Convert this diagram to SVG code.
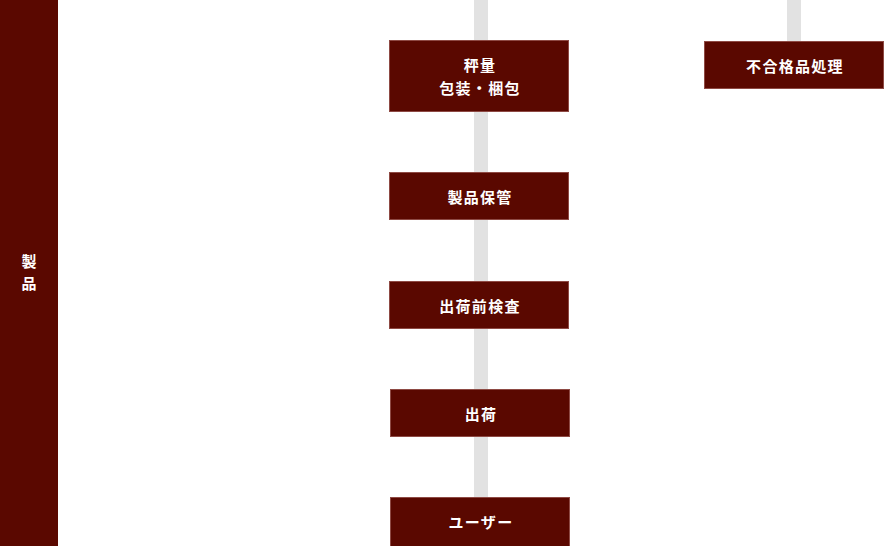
<svg xmlns="http://www.w3.org/2000/svg" width="890" height="546" viewBox="0 0 890 546">
<style>
.box{fill:#5a0800;stroke:#8e4a44;stroke-width:1}
.t{fill:#fff;font-family:"Noto Sans CJK JP","Noto Sans",sans-serif;font-size:15px;font-weight:bold;letter-spacing:1.3px;text-anchor:middle}
.s{fill:#fff;font-family:"Noto Sans CJK JP","Noto Sans",sans-serif;font-size:15px;font-weight:bold;text-anchor:middle}
.line{fill:#e2e2e2}
</style>
<rect width="890" height="546" fill="#fff"/>
<g id="connectors">
<rect class="line" x="474" y="0" width="14" height="546"/>
<rect class="line" x="787" y="0" width="14" height="42"/>
</g>
<g id="side">
<rect x="0" y="0" width="58" height="546" fill="#5a0800"/>
<text class="s" x="29" y="267">製</text>
<text class="s" x="29" y="289">品</text>
</g>
<g id="n1">
<rect class="box" x="389.5" y="40.5" width="179" height="71"/>
<text class="t" x="480" y="71">秤量</text>
<text class="t" x="480" y="94">包装・梱包</text>
</g>
<g id="n2">
<rect class="box" x="704.5" y="41.5" width="179" height="47"/>
<text class="t" x="795" y="72">不合格品処理</text>
</g>
<g id="n3">
<rect class="box" x="389.5" y="172.5" width="179" height="47"/>
<text class="t" x="480" y="203">製品保管</text>
</g>
<g id="n4">
<rect class="box" x="389.5" y="281.5" width="179" height="47"/>
<text class="t" x="480" y="312">出荷前検査</text>
</g>
<g id="n5">
<rect class="box" x="390.5" y="389.5" width="179" height="47"/>
<text class="t" x="481" y="420">出荷</text>
</g>
<g id="n6">
<rect class="box" x="390.5" y="497.5" width="179" height="50"/>
<text class="t" x="481" y="528">ユーザー</text>
</g>
</svg>
